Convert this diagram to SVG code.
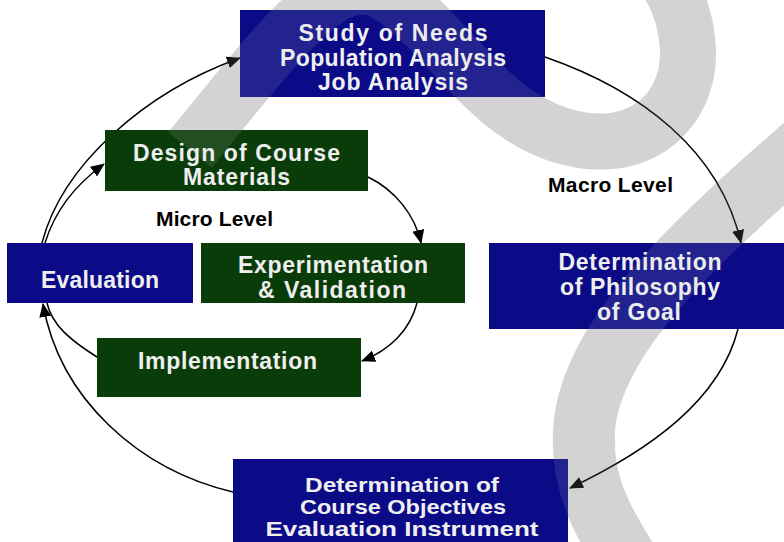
<svg xmlns="http://www.w3.org/2000/svg" width="784" height="542" viewBox="0 0 784 542">
  <defs>
    <style>
      .wm { fill: none; stroke: #d3d3d3; }
      .wmo { fill: none; stroke: #d3d3d3; opacity: 0.12; }
      .blue { fill: #0b0b87; }
      .green { fill: #0a3c0a; }
      .t { font-family: "Liberation Sans", Arial, sans-serif; font-weight: bold; font-size: 23px; fill: #efefef; text-anchor: middle; }
      .tb { font-size: 20px; }
      .lbl { font-family: "Liberation Sans", Arial, sans-serif; font-weight: bold; font-size: 21px; fill: #000; }
      .c { fill: none; stroke: #000; stroke-width: 1.5; }
      .ca { fill: none; stroke: #000; stroke-width: 1.5; marker-end: url(#arr); }
    </style>
    <marker id="arr" markerWidth="14" markerHeight="12" refX="13" refY="6" orient="auto" markerUnits="userSpaceOnUse">
      <path d="M0,0 L14,6 L0,12 z" fill="#000"/>
    </marker>
  </defs>

  <rect x="0" y="0" width="784" height="542" fill="#ffffff"/>

  <g id="watermark">
    <path class="wm" stroke-width="56" d="M 190,150 C 280,40 330,-30 380,-10 C 440,20 480,110 560,135 C 640,160 690,110 688,50 C 686,10 670,-20 650,-40"/>
    <path class="wm" stroke-width="62" d="M 840,115 C 720,220 600,320 585,420 C 578,480 600,520 640,580"/>
  </g>

  <g id="connectors">
    <path class="ca" d="M 42,243 C 62,165 145,92 240,58"/>
    <path class="ca" d="M 45,243 C 55,210 75,185 104,164"/>
    <path class="ca" d="M 545,57 C 640,90 720,150 741,243"/>
    <path class="ca" d="M 738,329 C 720,400 650,450 570,488"/>
    <path class="ca" d="M 233,492 C 140,470 60,400 43,304"/>
    <path class="c" d="M 97,357 C 70,340 52,325 47,303"/>
    <path class="ca" d="M 368,177 C 395,190 415,215 421,243"/>
    <path class="ca" d="M 417,303 C 410,330 390,350 362,361"/>
  </g>

  <g id="study-of-needs">
    <rect class="blue" x="240" y="10" width="305" height="87"/>
    <text class="t" x="393" y="41" textLength="189">Study of Needs</text>
    <text class="t" x="393" y="66" textLength="226">Population Analysis</text>
    <text class="t" x="393" y="90" textLength="150">Job Analysis</text>
  </g>

  <g id="design-course-materials">
    <rect class="green" x="105" y="130" width="263" height="61"/>
    <text class="t" x="236.5" y="161" textLength="207">Design of Course</text>
    <text class="t" x="236.5" y="185" textLength="107">Materials</text>
  </g>

  <g id="evaluation">
    <rect class="blue" x="7" y="243" width="186" height="60"/>
    <text class="t" x="100" y="288" textLength="118">Evaluation</text>
  </g>

  <g id="experimentation-validation">
    <rect class="green" x="201" y="243" width="264" height="60"/>
    <text class="t" x="333" y="273" textLength="190">Experimentation</text>
    <text class="t" x="332" y="298" textLength="148">&amp; Validation</text>
  </g>

  <g id="implementation">
    <rect class="green" x="97" y="338" width="264" height="59"/>
    <text class="t" x="227.5" y="369" textLength="179">Implementation</text>
  </g>

  <g id="determination-philosophy">
    <rect class="blue" x="489" y="243" width="295" height="86"/>
    <text class="t" x="640" y="270" textLength="163">Determination</text>
    <text class="t" x="640" y="295" textLength="160">of Philosophy</text>
    <text class="t" x="639" y="320" textLength="84">of Goal</text>
  </g>

  <g id="determination-objectives">
    <rect class="blue" x="233" y="459" width="335" height="90"/>
    <text class="t tb" x="402" y="492" textLength="194" lengthAdjust="spacingAndGlyphs">Determination of</text>
    <text class="t tb" x="403" y="514" textLength="206" lengthAdjust="spacingAndGlyphs">Course Objectives</text>
    <text class="t tb" x="402" y="536" textLength="273" lengthAdjust="spacingAndGlyphs">Evaluation Instrument</text>
  </g>

  <g id="labels">
    <text class="lbl" x="156" y="226" textLength="117">Micro Level</text>
    <text class="lbl" x="548" y="192" textLength="125">Macro Level</text>
  </g>

  <g id="watermark-overlay">
    <path class="wmo" stroke-width="56" d="M 190,150 C 280,40 330,-30 380,-10 C 440,20 480,110 560,135 C 640,160 690,110 688,50 C 686,10 670,-20 650,-40"/>
    <path class="wmo" stroke-width="62" d="M 840,115 C 720,220 600,320 585,420 C 578,480 600,520 640,580"/>
  </g>
</svg>
